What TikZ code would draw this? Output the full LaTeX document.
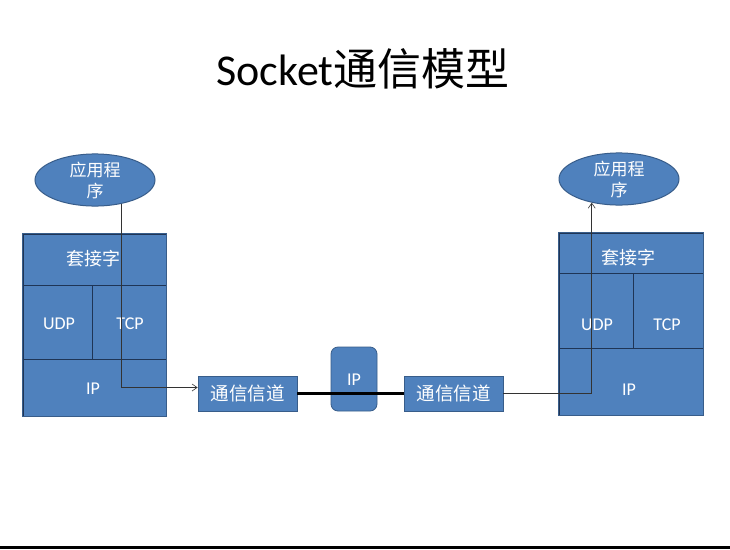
\documentclass[tikz,border=0pt]{standalone}
\usepackage{fontspec}
\setmainfont{Carlito}
\newfontfamily\cjk{Noto Sans CJK SC}
\usetikzlibrary{shapes.geometric,arrows.meta}
\definecolor{pblue}{HTML}{4F81BD}
\definecolor{pedge}{HTML}{385D8A}
\definecolor{pline}{HTML}{1F3556}
\tikzset{
  blk/.style={fill=pblue,draw=pline,line width=0.8pt,inner sep=0pt},
  lbl/.style={text=white,inner sep=0pt,font=\fontsize{18}{21}\selectfont},
  app/.style={ellipse,fill=pblue,draw=pedge,line width=1pt,text=white,inner sep=0pt,minimum width=120pt,minimum height=51pt,align=center,font=\cjk\fontsize{17}{21}\selectfont},
  chan/.style={fill=pblue,draw=pedge,line width=0.8pt,text=white,inner sep=0pt,minimum width=99pt,minimum height=35pt,font=\cjk\fontsize{18.5}{21}\selectfont},
  arr/.style={draw=black!80,line width=0.6pt,-{Straight Barb[length=5pt,width=7pt]}}
}
\begin{document}
\begin{tikzpicture}[x=1pt,y=-1pt]
\path[fill=white] (0,0) rectangle (730,549);
\useasboundingbox (0,0) rectangle (730,549);
\fill[black] (0,546) rectangle (730,549);
% title
\node (title) at (363,69) {\fontsize{44}{50}\selectfont Socket{\cjk 通信模型}};
% left stack
\node[blk,minimum width=143pt,minimum height=51pt] (sockL) at (94.5,259.5) {};
\node[blk,minimum width=69pt,minimum height=74pt] (udpL) at (57.5,322) {};
\node[blk,minimum width=74pt,minimum height=74pt] (tcpL) at (129,322) {};
\node[blk,minimum width=143pt,minimum height=57pt] (ipL) at (94.5,387.5) {};
\draw[pedge,line width=1pt] (sockL.north west) rectangle (ipL.south east);
\node[lbl] (sockLt) at (93,259) {\cjk 套接字};
\node[lbl] (udpLt) at (59,324) {UDP};
\node[lbl] (tcpLt) at (130,324) {TCP};
\node[lbl] (ipLt) at (93,389) {IP};
% right stack
\node[blk,minimum width=144pt,minimum height=40pt] (sockR) at (631,253) {};
\node[blk,minimum width=74pt,minimum height=75pt] (udpR) at (596,310.5) {};
\node[blk,minimum width=70pt,minimum height=75pt] (tcpR) at (668,310.5) {};
\node[blk,minimum width=144pt,minimum height=67pt] (ipR) at (631,381.5) {};
\draw[pedge,line width=1pt] (sockR.north west) rectangle (ipR.south east);
\node[lbl] (sockRt) at (628,258) {\cjk 套接字};
\node[lbl] (udpRt) at (597,325) {UDP};
\node[lbl] (tcpRt) at (667,325) {TCP};
\node[lbl] (ipRt) at (629,390) {IP};
% apps
\node[app] (appL) at (95,180) {应用程\\序};
\node[app] (appR) at (619,179) {应用程\\序};
% channels
\node[chan] (chL) at (247.5,393.5) {通信信道};
\node[chan] (chR) at (453.5,393.5) {通信信道};
\node[fill=pblue,draw=pedge,line width=0.8pt,rounded corners=7pt,minimum width=46pt,minimum height=64pt,inner sep=0pt] (ipM) at (354,379) {};
\node[lbl] (ipMt) at (354,380) {IP};
\draw[line width=2.6pt,black] (chL.east) -- (chR.east -| chR.west);
% connectors
\draw[arr] (appL.-42) |- ([yshift=6pt]chL.west);
\draw[arr] (chR.east) -| (appR.-139);
\end{tikzpicture}
\end{document}
